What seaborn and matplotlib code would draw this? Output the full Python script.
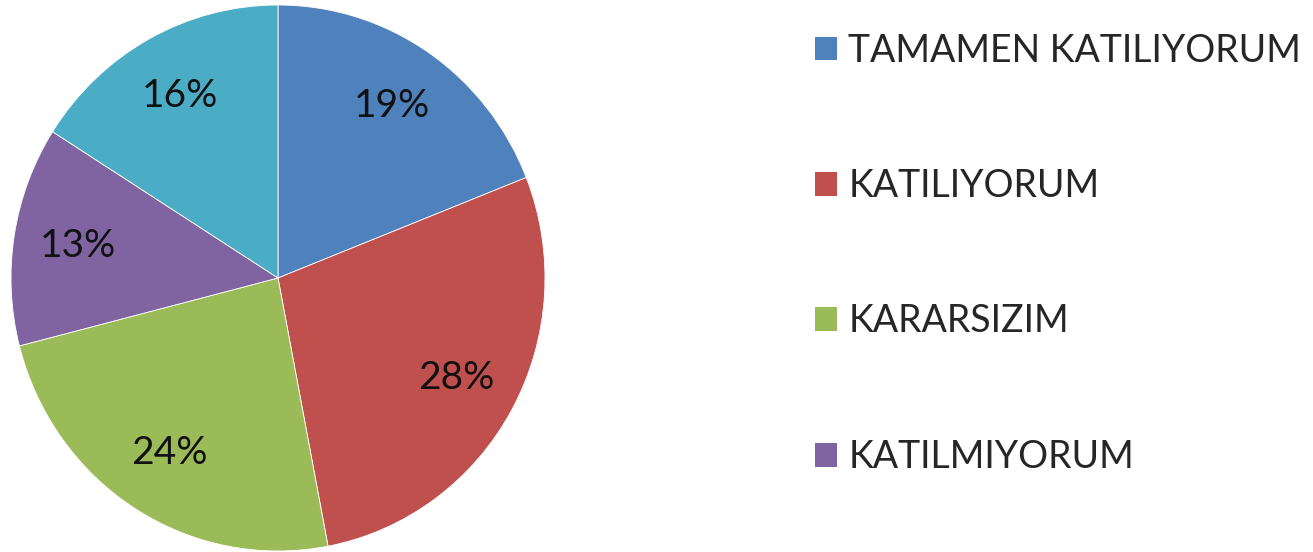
import matplotlib
matplotlib.use("Agg")
import matplotlib.pyplot as plt
import matplotlib.patches as mpatches
import seaborn as sns

# answers (Turkish Likert scale) and their shares in percent
labels = ['TAMAMEN KATILIYORUM', 'KATILIYORUM', 'KARARSIZIM', 'KATILMIYORUM', 'TAMAMEN KATILMIYORUM']
shares = [19, 28, 24, 13, 16]
colors = ['#4F81BD', '#C0504D', '#9BBB59', '#8064A2', '#4BACC6']
legend_labels = labels[:4]  # the fifth entry is cut off in the original

sns.set_theme(style='white')
plt.rcParams['font.family'] = ['Lato', 'DejaVu Sans']

W, H = 1313, 552
fig = plt.figure(figsize=(W / 100, H / 100), dpi=100)
# axes holding the pie, in pixel terms
ax = fig.add_axes([11 / W, 1 / H, 534 / W, 546 / H])

wedges, texts, autotexts = ax.pie(
    shares, colors=colors, startangle=90, counterclock=False,
    autopct='%1.0f%%', pctdistance=0.76,
    wedgeprops=dict(edgecolor='white', linewidth=0.6),
    textprops=dict(fontsize=28, color='#111111'),
)
ax.set_xlim(-1.0, 1.0)
ax.set_ylim(-1.0, 1.0)
ax.set_aspect('auto')
ax.axis('off')

handles = [mpatches.Patch(facecolor=c, edgecolor='none') for c in colors[:4]]
fig.legend(handles, legend_labels, loc='upper left', bbox_to_anchor=(796 / W, 1 - 14 / H),
           frameon=False, fontsize=27, labelspacing=2.65,
           handlelength=0.6, handleheight=0.6, handletextpad=0.3, borderpad=0)

fig.savefig('out.png', dpi=100, facecolor='white')
